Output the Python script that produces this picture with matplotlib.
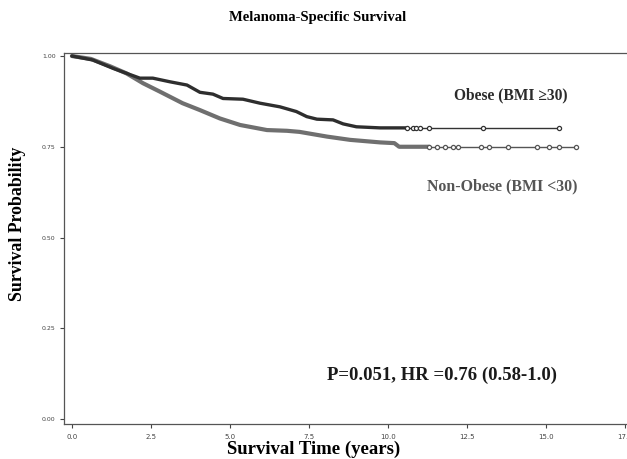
import matplotlib.pyplot as plt
import numpy as np

# Kaplan-Meier curves (years, survival probability)
obese_t = [0.0, 0.66, 1.3, 1.74, 2.15, 2.56, 3.1, 3.64, 4.05, 4.46, 4.78, 5.41, 5.95,
           6.58, 7.1, 7.43, 7.75, 8.26, 8.58, 9.0, 9.75, 10.6]
obese_s = [1.0, 0.989, 0.966, 0.952, 0.939, 0.939, 0.929, 0.920, 0.900, 0.895, 0.883, 0.881, 0.870,
           0.860, 0.847, 0.833, 0.826, 0.824, 0.813, 0.805, 0.802, 0.802]
obese_end = 15.4
obese_cens = [10.6, 10.8, 10.9, 11.0, 11.3, 13.0, 15.4]

nonob_t = [0.0, 0.6, 1.2, 1.73, 2.25, 2.78, 3.5, 4.05, 4.68, 5.32, 6.17, 6.8, 7.2, 8.07,
           8.8, 9.75, 10.2, 10.35, 11.3]
nonob_s = [1.0, 0.992, 0.972, 0.952, 0.925, 0.902, 0.870, 0.851, 0.828, 0.810, 0.796, 0.794, 0.791, 0.778,
           0.769, 0.762, 0.760, 0.750, 0.750]
nonob_end = 15.95
nonob_cens = [11.3, 11.55, 11.8, 12.05, 12.2, 12.95, 13.2, 13.8, 14.7, 15.1, 15.4, 15.95]

x_ticks = [0.0, 2.5, 5.0, 7.5, 10.0, 12.5, 15.0, 17.5]
y_ticks = [0.0, 0.25, 0.5, 0.75, 1.0]

fig = plt.figure(figsize=(6.27, 4.59), dpi=100)
ax = fig.add_axes([64 / 627, 35 / 459, 576 / 627, 371 / 459])


def draw_curve(t, s, end, cens, color, thin_color, lw):
    # heavy censoring makes the early part look like a thick band
    ax.plot(t, s, color=color, lw=lw, zorder=3, solid_joinstyle="round", solid_capstyle="round")
    # sparse tail: thin line with open censor circles
    ax.plot([t[-1], end], [s[-1], s[-1]], color=thin_color, lw=1.0, zorder=2)
    ax.plot(cens, [s[-1]] * len(cens), "o", ms=3.0, mfc="white", mec=thin_color, mew=0.9, zorder=4)


draw_curve(nonob_t, nonob_s, nonob_end, nonob_cens, "#6f6f6f", "#555555", 3.0)
draw_curve(obese_t, obese_s, obese_end, obese_cens, "#2e2e2e", "#333333", 2.4)

ax.set_xlim(-0.25, 17.97)
ax.set_ylim(-0.0138, 1.0083)
ax.set_xticks(x_ticks)
ax.set_xticklabels([f"{v:.1f}" for v in x_ticks])
ax.set_yticks(y_ticks)
ax.set_yticklabels([f"{v:.2f}" for v in y_ticks])
ax.tick_params(labelcolor="#444444", length=3, width=0.8, color="#444444")
ax.tick_params(axis="x", labelsize=5, pad=4)
ax.tick_params(axis="y", labelsize=4.5, pad=3)
for side in ["left", "bottom", "top", "right"]:
    ax.spines[side].set_color("#555555")
    ax.spines[side].set_linewidth(0.9)

serif = "Liberation Serif"
fig.text(318 / 627, 1 - 18 / 459, "Melanoma-Specific Survival", ha="center", va="center",
         fontsize=10.5, fontweight="bold", family=serif)
fig.text(18 / 627, 1 - 224 / 459, "Survival Probability", ha="center", va="center",
         rotation=90, fontsize=12.8, fontweight="bold", family=serif)
fig.text(314 / 627, 1 - 449 / 459, "Survival Time (years)", ha="center", va="center",
         fontsize=13.5, fontweight="bold", family=serif)

fig.text(511 / 627, 1 - 95 / 459, "Obese (BMI \u226530)", ha="center", va="center",
         fontsize=11.2, fontweight="bold", family=[serif, "DejaVu Serif"], color="#2b2b2b")
fig.text(502 / 627, 1 - 186 / 459, "Non-Obese (BMI <30)", ha="center", va="center",
         fontsize=11.4, fontweight="bold", family=serif, color="#555555")
fig.text(442 / 627, 1 - 375 / 459, "P=0.051, HR =0.76 (0.58-1.0)", ha="center", va="center",
         fontsize=13.5, fontweight="bold", family=serif, color="#1a1a1a")

fig.savefig("out.png", dpi=100)
